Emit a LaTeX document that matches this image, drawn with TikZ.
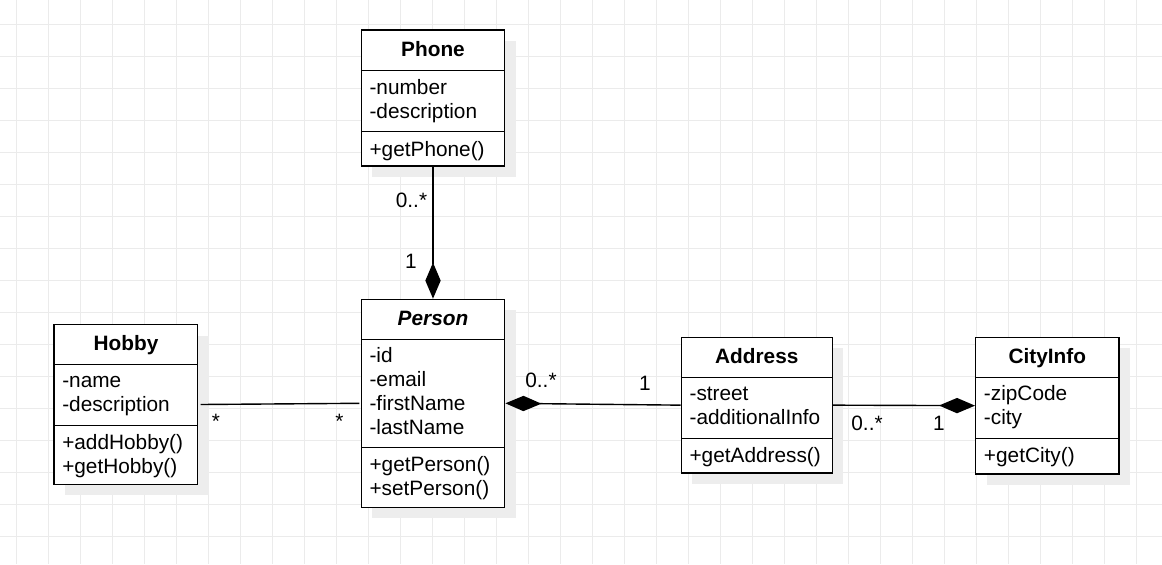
\documentclass[tikz,border=0pt]{standalone}
\usepackage{fontspec}
\setmainfont{Liberation Sans}
\usetikzlibrary{arrows.meta,fit}
\definecolor{gridc}{HTML}{EBEBEB}
\definecolor{shadowc}{HTML}{EDEDED}
\tikzset{
  frame/.style={draw, fill=white, line width=1.05pt, inner sep=0pt, rectangle},
  sepline/.style={line width=1.05pt},
  classtitle/.style={anchor=base, inner sep=0pt, font=\fontsize{15.6}{18}\selectfont\bfseries},
  member/.style={anchor=base west, inner sep=0pt, font=\fontsize{15.6}{18}\selectfont},
  mult/.style={anchor=base, inner sep=0pt, font=\fontsize{15.6}{18}\selectfont},
  assoc/.style={line width=1.05pt},
  compo/.style={line width=1.05pt, -{Diamond[length=27pt,width=11.5pt]}},
}
\begin{document}
\begin{tikzpicture}[x=0.75pt,y=-0.75pt]
\useasboundingbox (0,0) rectangle (1162,564);
\fill[white] (0,0) rectangle (1162,564);
% grid
\foreach \gx in {16,48,...,1136} \draw[gridc, line width=0.75pt] (\gx,0) -- (\gx,564);
\foreach \gy in {24,56,...,536} \draw[gridc, line width=0.75pt] (0,\gy) -- (1162,\gy);

% ---------- Phone ----------
\fill[shadowc] (372.3,41) rectangle (515.7,177);
\node[frame, fit={(361.3,30) (504.7,166)}] (phone) {};
\draw[sepline] (361.3,70.7) -- (504.7,70.7);
\draw[sepline] (361.3,131.7) -- (504.7,131.7);
\node[classtitle] (phoneT) at (433,56) {Phone};
\node[member] (phoneA1) at (369.3,94) {-number};
\node[member] (phoneA2) at (369.3,118) {-description};
\node[member] (phoneM1) at (369.3,156) {+getPhone()};

% ---------- Person ----------
\fill[shadowc] (372.3,310.3) rectangle (515.7,518.3);
\node[frame, fit={(361.3,299.3) (504.7,507.3)}] (person) {};
\draw[sepline] (361.3,339.3) -- (504.7,339.3);
\draw[sepline] (361.3,447.7) -- (504.7,447.7);
\node[classtitle, font=\fontsize{15.6}{18}\selectfont\bfseries\itshape] (personT) at (433,325.5) {Person};
\node[member] (personA1) at (369.3,362.3) {-id};
\node[member] (personA2) at (369.3,386.3) {-email};
\node[member] (personA3) at (369.3,410.3) {-firstName};
\node[member] (personA4) at (369.3,434.3) {-lastName};
\node[member] (personM1) at (369.3,471.3) {+getPerson()};
\node[member] (personM2) at (369.3,495.3) {+setPerson()};

% ---------- Hobby ----------
\fill[shadowc] (65,335.7) rectangle (208.7,495.3);
\node[frame, fit={(54,324.7) (197.7,484.3)}] (hobby) {};
\draw[sepline] (54,364.3) -- (197.7,364.3);
\draw[sepline] (54,425.7) -- (197.7,425.7);
\node[classtitle] (hobbyT) at (126,350.7) {Hobby};
\node[member] (hobbyA1) at (62,387.6) {-name};
\node[member] (hobbyA2) at (62,411.6) {-description};
\node[member] (hobbyM1) at (62,449.6) {+addHobby()};
\node[member] (hobbyM2) at (62,473.6) {+getHobby()};

% ---------- Address ----------
\fill[shadowc] (692.3,348.3) rectangle (843.3,484);
\node[frame, fit={(681.3,337.3) (832.3,473)}] (address) {};
\draw[sepline] (681.3,377.3) -- (832.3,377.3);
\draw[sepline] (681.3,438.3) -- (832.3,438.3);
\node[classtitle] (addressT) at (756.8,363.3) {Address};
\node[member] (addressA1) at (689.3,400.6) {-street};
\node[member] (addressA2) at (689.3,424.6) {-additionalInfo};
\node[member] (addressM1) at (689.3,462.6) {+getAddress()};

% ---------- CityInfo ----------
\fill[shadowc] (986.7,348.3) rectangle (1130,485);
\node[frame, fit={(975.7,337.3) (1119,474)}] (city) {};
\draw[sepline] (975.7,377.3) -- (1119,377.3);
\draw[sepline] (975.7,438.3) -- (1119,438.3);
\node[classtitle] (cityT) at (1047.3,363.3) {CityInfo};
\node[member] (cityA1) at (983.7,400.6) {-zipCode};
\node[member] (cityA2) at (983.7,424.6) {-city};
\node[member] (cityM1) at (983.7,462.6) {+getCity()};

% ---------- connectors ----------
\draw[compo] (phone.south) -- (person.north);
\draw[assoc] ([xshift=1.7pt]hobby.east) -- ([xshift=-1pt]person.west);
\draw[compo] (address.west) -- (person.east);
\draw[compo] (address.east) -- (city.west);

% multiplicities
\node[mult] (m1) at (411.5,207.5) {0..*};
\node[mult] (m2) at (411,268) {1};
\node[mult] (m3) at (216,428) {*};
\node[mult] (m4) at (339.3,428) {*};
\node[mult] (m5) at (541,387.3) {0..*};
\node[mult] (m6) at (645,390) {1};
\node[mult] (m7) at (867,430) {0..*};
\node[mult] (m8) at (939,430) {1};
\end{tikzpicture}
\end{document}
